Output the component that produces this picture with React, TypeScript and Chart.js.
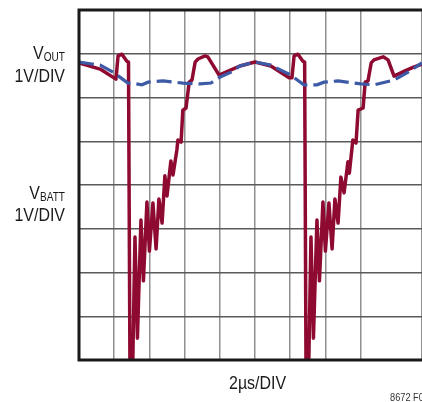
import React, { useEffect, useRef } from "react";
import { Chart, registerables } from "chart.js";

Chart.register(...registerables);

// x in horizontal divisions (2µs/DIV), y in vertical divisions (1V/DIV)
const voutTime = [0, 0.6, 0.97, 1.39, 1.51, 1.79, 1.96, 2.39, 2.95, 3.44, 3.75, 4.01, 4.32, 4.57, 5.0, 5.45, 6.02, 6.39, 6.76, 6.96, 7.36, 8.01, 8.38, 8.95, 9.35, 9.74];
const voutLevel = [6.81, 6.74, 6.58, 6.33, 6.33, 6.29, 6.35, 6.38, 6.33, 6.31, 6.33, 6.47, 6.58, 6.72, 6.81, 6.74, 6.51, 6.29, 6.29, 6.35, 6.38, 6.31, 6.29, 6.4, 6.58, 6.79];

const vbattTime = [
  0, 0.6, 1.05, 1.11, 1.22, 1.36, 1.406, 1.449, 1.52, 1.59, 1.66, 1.76, 1.83, 1.93, 2.0, 2.1, 2.19, 2.27, 2.36, 2.44, 2.5, 2.61, 2.67, 2.78, 2.81, 2.9, 2.95, 3.04, 3.13, 3.21, 3.3, 3.38, 3.58, 3.66, 3.98, 4.32, 4.57, 5.0, 5.45, 5.97, 6.05, 6.11, 6.22, 6.36, 6.41, 6.45, 6.52, 6.59, 6.66, 6.76, 6.83, 6.93, 7.0, 7.1, 7.19, 7.27, 7.36, 7.44, 7.53, 7.64, 7.68, 7.78, 7.87, 7.93, 8.07, 8.13, 8.21, 8.3, 8.38, 8.64, 8.78, 8.95, 9.26, 9.52, 9.74,
];
const vbattLevel = [
  6.79, 6.65, 6.42, 6.95, 6.99, 6.83, 6.81, -0.4, -0.4, 2.81, 0.5, 3.2, 1.81, 3.61, 2.49, 3.59, 2.54, 3.68, 3.13, 4.21, 3.75, 4.55, 4.23, 4.8, 5.03, 4.98, 5.71, 5.76, 6.35, 6.4, 6.81, 6.88, 6.95, 6.93, 6.51, 6.63, 6.72, 6.81, 6.72, 6.45, 6.45, 6.95, 6.99, 6.83, 6.81, -0.4, -0.4, 2.81, 0.5, 3.2, 1.81, 3.61, 2.49, 3.59, 2.54, 3.68, 3.13, 4.18, 3.82, 4.53, 4.27, 5.03, 4.96, 5.71, 5.76, 6.35, 6.38, 6.79, 6.86, 6.93, 6.86, 6.49, 6.61, 6.7, 6.76,
];

const xDivisions = 9.744;
const yDivisions = 8;

const FONT = '"Liberation Sans", Arial, sans-serif';
const SQUEEZE = 0.84;

const overlay = {
  id: "overlay",
  afterDraw(chart: any) {
    const ctx = chart.ctx as CanvasRenderingContext2D;
    const a = chart.chartArea;
    ctx.save();
    // frame
    ctx.strokeStyle = "#1a1a1a";
    ctx.lineWidth = 3;
    ctx.beginPath();
    ctx.moveTo(a.right + 2, a.top);
    ctx.lineTo(a.left, a.top);
    ctx.lineTo(a.left, a.bottom);
    ctx.lineTo(a.right + 2, a.bottom);
    ctx.stroke();
    ctx.restore();

    const text = (s: string, x: number, y: number, size: number, align: CanvasTextAlign, color = "#1a1a1a") => {
      ctx.save();
      ctx.font = `${size}px ${FONT}`;
      ctx.fillStyle = color;
      ctx.textAlign = align;
      ctx.translate(x, y);
      ctx.scale(SQUEEZE, 1);
      ctx.fillText(s, 0, 0);
      const w = ctx.measureText(s).width * SQUEEZE;
      ctx.restore();
      return w;
    };
    const right = 65;
    const label = (main: string, sub: string, base: number) => {
      const w = text(sub, right, base + 2, 12, "right");
      text(main, right - w, base, 19, "right");
    };
    label("V", "OUT", 58.5);
    label("V", "BATT", 198.5);
    text("1V/DIV", right, 81.5, 19, "right");
    text("1V/DIV", right, 220.5, 19, "right");
    text("2µs/DIV", 229, 389, 19, "left");
    text("8672 F01", 390, 401, 11, "left", "#333");
  },
};

export default function App() {
  const ref = useRef<HTMLCanvasElement | null>(null);
  useEffect(() => {
    if (!ref.current) return;
    const chart = new Chart(ref.current, {
      type: "line",
      data: {
        datasets: [
          {
            label: "VOUT",
            data: voutTime.map((x, i) => ({ x, y: voutLevel[i] })),
            borderColor: "#3d5aa6",
            borderWidth: 3.2,
            borderDash: [15, 6],
            pointRadius: 0,
            tension: 0,
            order: 1,
            clip: 0,
          },
          {
            label: "VBATT",
            data: vbattTime.map((x, i) => ({ x, y: vbattLevel[i] })),
            borderColor: "#8e0a30",
            borderWidth: 3.5,
            borderJoinStyle: "round",
            pointRadius: 0,
            tension: 0,
            order: 2,
            clip: 0,
          },
        ],
      },
      options: {
        responsive: false,
        animation: false,
        devicePixelRatio: 1,
        layout: { padding: { left: 79, top: 10, right: 0, bottom: 42 } },
        plugins: { legend: { display: false }, tooltip: { enabled: false } },
        scales: {
          x: {
            type: "linear",
            min: 0,
            max: xDivisions,
            ticks: { display: false, stepSize: 1 },
            grid: { color: "#909090", lineWidth: 1.5, drawTicks: false },
            border: { display: false },
          },
          y: {
            type: "linear",
            min: 0,
            max: yDivisions,
            ticks: { display: false, stepSize: 1 },
            grid: { color: "#5a5a5a", lineWidth: 1.5, drawTicks: false },
            border: { display: false },
          },
        },
      },
      plugins: [overlay],
    });
    return () => chart.destroy();
  }, []);
  return (
    <div style={{ position: "fixed", left: 0, top: 0, width: 422, height: 402, background: "#fff" }}>
      <canvas ref={ref} width={422} height={402} />
    </div>
  );
}
